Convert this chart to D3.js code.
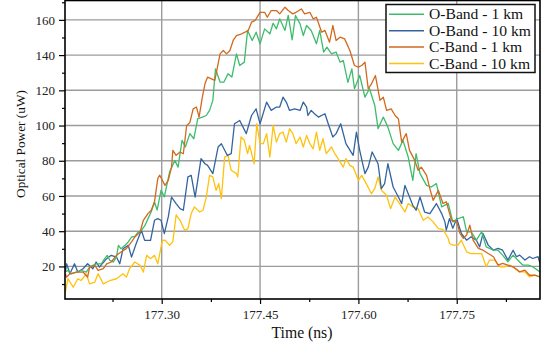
<!DOCTYPE html>
<html><head><meta charset="utf-8">
<script src="https://cdn.jsdelivr.net/npm/d3@7"></script>
<style>
html,body{margin:0;padding:0;background:#fff;}
svg{display:block;}
</style></head>
<body><svg id="c" width="546" height="345"></svg>
<script>
// ---- data (time in ns, optical power in uW) ----
const seriesNames = ["O-Band - 1 km","O-Band - 10 km","C-Band - 1 km","C-Band - 10 km"];
const seriesColors = ["#3dbd6c","#3464a0","#d2691e","#ffc20e"];
const yMajorTicks = [20,40,60,80,100,120,140,160];
const yMinorTicks = [10,30,50,70,90,110,130,150,170];
const xMajorTicks = [177.30,177.45,177.60,177.75];
const xMinorTicks = [177.225,177.375,177.525,177.675,177.825];

const oBand1km = [[177.153,16.8],[177.157,17.7],[177.162,15.8],[177.170,16.8],[177.177,17.7],[177.185,16.8],[177.190,19.6],[177.195,20.6],[177.200,21.5],[177.208,21.5],[177.213,24.4],[177.217,26.3],[177.221,23.4],[177.226,22.5],[177.231,25.3],[177.234,32],[177.238,30],[177.244,32],[177.249,33.9],[177.254,36.7],[177.259,37],[177.264,39.5],[177.269,40.5],[177.274,43],[177.279,47],[177.284,51],[177.289,56.6],[177.293,52],[177.299,63.3],[177.304,59.5],[177.312,73.6],[177.320,80.2],[177.325,76.4],[177.331,91.6],[177.336,87.8],[177.343,95.4],[177.349,92.5],[177.355,103.9],[177.362,104.8],[177.368,105.7],[177.373,108.6],[177.378,114.3],[177.382,132.2],[177.389,124.7],[177.395,124.7],[177.401,129.4],[177.407,127.5],[177.414,140.7],[177.419,134.1],[177.426,136],[177.431,154],[177.438,148.3],[177.444,153],[177.450,146.4],[177.457,154.9],[177.465,152.1],[177.470,158.1],[177.475,154.9],[177.480,160.6],[177.488,154],[177.493,162.5],[177.499,148.7],[177.504,162.5],[177.511,157.7],[177.516,151.1],[177.521,156.8],[177.528,154],[177.536,146.4],[177.541,154],[177.547,141.7],[177.552,144.5],[177.559,140.7],[177.566,141.7],[177.572,136],[177.577,136.9],[177.584,124.5],[177.590,132.2],[177.594,120.9],[177.602,128.4],[177.610,116.1],[177.617,120.9],[177.625,111.4],[177.630,98.2],[177.638,104.8],[177.645,99.1],[177.653,89.7],[177.661,85.9],[177.668,91.6],[177.676,82.1],[177.683,68.9],[177.688,84],[177.694,72.7],[177.704,66],[177.711,65.1],[177.719,67],[177.727,53.8],[177.737,55.8],[177.744,45.3],[177.752,47.2],[177.760,48.2],[177.765,39.7],[177.772,39.7],[177.780,34.9],[177.788,39.7],[177.795,31.1],[177.806,29.2],[177.813,29.2],[177.820,26.4],[177.828,22.6],[177.836,26.4],[177.843,23.6],[177.851,20.7],[177.859,20.7],[177.866,19.8],[177.877,16.9]];

const oBand10km = [[177.153,16.8],[177.155,21.5],[177.160,15.8],[177.167,21.5],[177.172,16.8],[177.180,18.7],[177.187,21.5],[177.195,18.7],[177.200,22.5],[177.205,19.6],[177.216,24.4],[177.223,26.3],[177.231,25.3],[177.236,21.5],[177.241,30],[177.249,32],[177.254,25.3],[177.261,32.9],[177.269,40.5],[177.274,34.8],[177.283,34.8],[177.289,46.2],[177.294,47.1],[177.299,46.2],[177.304,38.6],[177.310,48.1],[177.315,59.4],[177.322,55.7],[177.328,52.8],[177.333,51.9],[177.340,70.8],[177.345,71.7],[177.351,59.4],[177.360,81.2],[177.366,78.3],[177.370,77.4],[177.378,72.7],[177.386,87.8],[177.391,89.7],[177.400,83.1],[177.406,84],[177.411,101],[177.419,102.9],[177.429,95.4],[177.437,105.7],[177.444,109.5],[177.450,101],[177.460,113.3],[177.467,108.6],[177.475,110.5],[177.480,110.5],[177.485,116.1],[177.490,113.3],[177.495,108.6],[177.503,109.5],[177.511,108.6],[177.516,113.3],[177.521,110.5],[177.523,105.7],[177.528,108.6],[177.533,106.7],[177.539,104.8],[177.549,106.7],[177.554,101],[177.561,93.5],[177.566,95.4],[177.573,101],[177.581,89.7],[177.592,83.1],[177.597,96.3],[177.602,85.9],[177.610,72.7],[177.615,76.4],[177.621,85],[177.630,78.3],[177.635,64.2],[177.640,67],[177.645,78.3],[177.653,65.1],[177.661,59.4],[177.666,55.7],[177.671,66],[177.678,59.4],[177.683,54.7],[177.688,51.9],[177.694,59.4],[177.701,50.9],[177.709,50],[177.719,55.7],[177.727,50],[177.732,45.3],[177.734,40.6],[177.739,47.2],[177.744,41.6],[177.750,47.2],[177.757,38.7],[177.765,34.9],[177.772,36.8],[177.780,34.9],[177.785,31.1],[177.790,38.7],[177.798,32.1],[177.806,29.2],[177.813,30.2],[177.820,29.2],[177.828,23.6],[177.836,29.2],[177.841,25.5],[177.846,26.4],[177.854,23.6],[177.861,25.5],[177.866,24.5],[177.874,25.5],[177.877,21.7]];

const cBand1km = [[177.153,15.8],[177.155,13.9],[177.160,15.8],[177.170,16.8],[177.180,16.8],[177.187,13.9],[177.190,19.6],[177.198,20.6],[177.203,17.7],[177.211,18.7],[177.216,21.5],[177.223,22.5],[177.231,26.3],[177.238,28.2],[177.246,30.1],[177.254,33.9],[177.259,36.7],[177.267,39.5],[177.272,46.2],[177.279,50],[177.284,51.9],[177.289,56.6],[177.294,69.9],[177.297,71.8],[177.305,66],[177.310,68.9],[177.315,76.4],[177.317,85.9],[177.322,83.1],[177.328,85],[177.333,84],[177.338,99.9],[177.343,101.8],[177.348,109.5],[177.353,110.5],[177.357,104.8],[177.362,116.1],[177.366,123.7],[177.370,127.5],[177.376,126.5],[177.381,125.6],[177.389,140.7],[177.394,142.6],[177.399,140.7],[177.404,142.6],[177.409,148.3],[177.414,151.1],[177.422,152.1],[177.427,153],[177.432,154],[177.437,158.7],[177.442,159.6],[177.444,160.6],[177.450,164.3],[177.457,164.3],[177.461,161.5],[177.467,165.3],[177.475,165.3],[177.480,163.4],[177.488,167.2],[177.493,165.3],[177.500,163.4],[177.505,164.3],[177.513,166.2],[177.518,163.4],[177.526,164.3],[177.531,160.6],[177.536,161.5],[177.544,153],[177.549,154],[177.556,147.3],[177.561,156.8],[177.566,148.3],[177.572,150.2],[177.579,149.2],[177.587,142.6],[177.594,134.1],[177.600,133.2],[177.605,134.1],[177.610,136],[177.615,120.9],[177.620,123.7],[177.626,128.4],[177.633,114.3],[177.638,116.1],[177.643,108.6],[177.650,109.5],[177.656,105.7],[177.661,103.9],[177.666,90.6],[177.673,95.4],[177.678,85.9],[177.686,80.2],[177.691,74.6],[177.696,76.4],[177.704,71.7],[177.709,64.2],[177.714,57.5],[177.722,63.2],[177.729,55.7],[177.734,56.7],[177.742,46.3],[177.750,45.3],[177.755,38.7],[177.760,35.9],[177.765,37.8],[177.770,43.4],[177.775,34.9],[177.783,30.2],[177.790,29.2],[177.798,27.3],[177.806,25.5],[177.813,20.7],[177.820,21.7],[177.828,20.7],[177.836,19.8],[177.846,16.9],[177.854,17.9],[177.861,15],[177.869,15],[177.877,14.1]];

const cBand10km = [[177.153,5.4],[177.157,13],[177.165,8.2],[177.172,13],[177.177,12],[177.185,15.8],[177.190,10.1],[177.198,11.1],[177.203,15.8],[177.211,10.1],[177.221,12],[177.231,13],[177.241,15.8],[177.246,13.9],[177.251,18.7],[177.259,22.5],[177.267,20.6],[177.272,16.8],[177.277,26.3],[177.283,24.4],[177.289,26.3],[177.294,21.5],[177.301,34.8],[177.305,34.9],[177.312,32],[177.317,34.1],[177.322,49.2],[177.328,46.2],[177.335,40.5],[177.340,41.5],[177.345,50],[177.350,53.8],[177.358,50.9],[177.363,51.9],[177.368,59.4],[177.373,71.7],[177.378,70.8],[177.383,63.2],[177.387,67],[177.391,58.5],[177.396,82.1],[177.401,83.1],[177.406,74.6],[177.414,72.7],[177.416,70.8],[177.421,93.5],[177.426,91.6],[177.431,84],[177.434,88.7],[177.441,78.3],[177.445,101],[177.450,89.7],[177.455,89.7],[177.460,95.4],[177.465,82.1],[177.470,100.1],[177.475,90.6],[177.480,95.4],[177.485,96.3],[177.490,90.6],[177.495,98.2],[177.500,95.4],[177.505,89.7],[177.511,93.5],[177.516,87.8],[177.521,94.4],[177.526,89.7],[177.531,86.8],[177.536,96.3],[177.541,85.9],[177.546,92.5],[177.551,84],[177.559,87.8],[177.564,84],[177.569,81.2],[177.577,76.4],[177.581,81.2],[177.587,77.4],[177.592,76.4],[177.600,68.9],[177.605,71.7],[177.612,67],[177.620,61.3],[177.625,64.2],[177.630,70.8],[177.635,63.2],[177.643,60.4],[177.649,52.8],[177.656,59.4],[177.663,55.7],[177.671,50.9],[177.676,55.7],[177.683,53.8],[177.691,52.8],[177.699,46.2],[177.706,48.1],[177.714,45.3],[177.722,41.5],[177.729,41],[177.737,36],[177.739,33],[177.744,32.1],[177.752,32.1],[177.757,34.9],[177.765,28.3],[177.772,27.3],[177.780,27.3],[177.788,27.3],[177.795,19.8],[177.800,23.6],[177.808,23.6],[177.816,19.8],[177.823,19.8],[177.831,20.7],[177.839,18.8],[177.846,16.9],[177.854,16.9],[177.861,14.1],[177.869,15],[177.877,14.1]];

const allSeries = [oBand1km, oBand10km, cBand1km, cBand10km];

// ---- layout ----
const FONT = '"Liberation Serif","Times New Roman",serif';
const L = 65, R = 540, T = 0.5, B = 299;
const svg = d3.select("#c");
const x = d3.scaleLinear().domain([177.1525, 177.877]).range([L, R]);
const y = d3.scaleLinear().domain([1.5, 171]).range([B, T]);

// scale a text's font size so that its width matches a target width
function fitFont(sel, base, target){
  sel.style("font-size", base + "px");
  const w = sel.node().getComputedTextLength();
  const fs = base * target / w;
  sel.style("font-size", fs + "px");
  return fs;
}

svg.append("defs").append("clipPath").attr("id","clip")
  .append("rect").attr("x",L).attr("y",T).attr("width",R-L).attr("height",B-T);

// grid
const grid = svg.append("g");
grid.selectAll("line.h").data(yMajorTicks).join("line")
  .attr("x1",L).attr("x2",R).attr("y1",d=>y(d)).attr("y2",d=>y(d))
  .attr("stroke","#9c9c9c").attr("stroke-width",1.4);
grid.selectAll("line.v").data(xMajorTicks).join("line")
  .attr("y1",T).attr("y2",B).attr("x1",d=>x(d)).attr("x2",d=>x(d))
  .attr("stroke","#9c9c9c").attr("stroke-width",1.4);

// series lines
const line = d3.line().x(d=>x(d[0])).y(d=>y(d[1]));
const lines = svg.append("g").attr("clip-path","url(#clip)");
[3,1,0,2].forEach(i=>{
  lines.append("path").datum(allSeries[i]).attr("d",line)
    .attr("fill","none").attr("stroke",seriesColors[i])
    .attr("stroke-width",1.3).attr("stroke-linejoin","round");
});

// axes
function styleAxis(g){
  g.attr("font-family",FONT);
  g.select(".domain").remove();
  g.selectAll(".tick line").attr("stroke","#000").attr("stroke-width",1.2);
  g.selectAll(".tick text").attr("fill","#222")
    .attr("font-family",FONT).style("font-size","13px");
}
svg.append("g").attr("transform",`translate(${L},0)`)
  .call(d3.axisLeft(y).tickValues(yMajorTicks).tickSize(6).tickPadding(4).tickFormat(d3.format("d")))
  .call(styleAxis);
svg.append("g").attr("transform",`translate(${L},0)`)
  .call(d3.axisLeft(y).tickValues(yMinorTicks).tickSize(3).tickFormat(""))
  .call(styleAxis);
svg.append("g").attr("transform",`translate(0,${B})`)
  .call(d3.axisBottom(x).tickValues(xMajorTicks).tickSize(5).tickPadding(6).tickFormat(d3.format(".2f")))
  .call(styleAxis);
svg.append("g").attr("transform",`translate(0,${B})`)
  .call(d3.axisBottom(x).tickValues(xMinorTicks).tickSize(3).tickFormat(""))
  .call(styleAxis);

// frame
svg.append("rect").attr("x",L).attr("y",T).attr("width",R-L).attr("height",B-T)
  .attr("fill","none").attr("stroke","#000").attr("stroke-width",1.6);

// axis titles
const xt = svg.append("text").attr("x",302).attr("y",338).attr("text-anchor","middle")
  .attr("font-family",FONT).attr("fill","#111").text("Time (ns)");
fitFont(xt, 15, 61);
const yt = svg.append("text").attr("transform","translate(25,144) rotate(-90)").attr("text-anchor","middle")
  .attr("font-family",FONT).attr("fill","#111").text("Optical Power (uW)");
fitFont(yt, 14, 108);

// legend
const lg = svg.append("g").attr("font-family",FONT);
lg.append("rect").attr("x",386).attr("y",4.5).attr("width",149).attr("height",68)
  .attr("fill","#fff").attr("stroke","#111").attr("stroke-width",1.5);
const probe = lg.append("text").attr("font-family",FONT).text(seriesNames[1]);
const legendFs = fitFont(probe, 14.5, 102);
probe.remove();
seriesNames.forEach((n,i)=>{
  const yy = 14.3 + i*16.4;
  lg.append("line").attr("x1",389).attr("x2",424).attr("y1",yy).attr("y2",yy)
    .attr("stroke",seriesColors[i]).attr("stroke-width",1.5);
  lg.append("text").attr("x",429).attr("y",yy+5).style("font-size",legendFs+"px")
    .attr("fill","#111").text(n);
});
</script></body></html>
